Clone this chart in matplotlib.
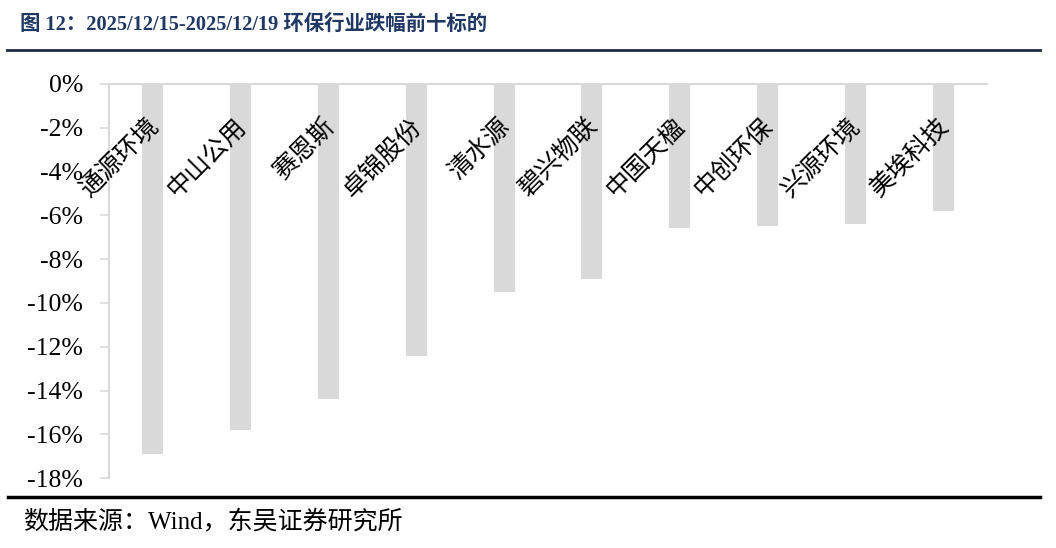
import matplotlib
matplotlib.use("Agg")
import matplotlib.pyplot as plt
from matplotlib.ticker import FuncFormatter

# data
names = ["通源环境", "中山公用", "赛恩斯", "卓锦股份", "清水源",
         "碧兴物联", "中国天楹", "中创环保", "兴源环境", "美埃科技"]
changes = [-16.9, -15.8, -14.4, -12.4, -9.5, -8.9, -6.6, -6.5, -6.4, -5.8]
yticks = list(range(0, -20, -2))

title = "图 12：2025/12/15-2025/12/19 环保行业跌幅前十标的"
source = "数据来源：Wind，东吴证券研究所"

serif_cjk = ["Liberation Serif", "Noto Sans CJK SC"]
plt.rcParams["font.family"] = serif_cjk

fig = plt.figure(figsize=(10.56, 5.48), dpi=100)
ax = fig.add_axes([0.1032, 0.1272, 0.8315, 0.7201])

x = range(len(names))
ax.bar(x, changes, width=0.24, color="#D9D9D9", zorder=2)

ax.set_xlim(-0.5, len(names) - 0.5)
ax.set_ylim(-18, 0)
ax.set_yticks(yticks)
ax.yaxis.set_major_formatter(FuncFormatter(lambda v, p: f"{v:.0f}%"))
ax.tick_params(axis="y", length=6.5, width=1.2, color="#D9D9D9",
               pad=12, labelsize=18.5)
ax.set_xticks([])

for s in ["right", "bottom"]:
    ax.spines[s].set_visible(False)
ax.spines["left"].set_color("#D9D9D9")
ax.spines["left"].set_linewidth(1.5)
ax.spines["top"].set_color("#D9D9D9")
ax.spines["top"].set_linewidth(1.5)

# rotated category labels near the zero line
for i, n in enumerate(names):
    ax.text(i + 0.02, -1.76, n, rotation=45, rotation_mode="anchor",
            ha="right", va="center", fontsize=18, fontweight="light",
            family=["Noto Sans CJK SC", "DejaVu Sans"], zorder=3)

# title, rules and source
fig.text(0.019, 0.954, title, fontsize=14.7, fontweight="bold",
         color="#1F3864", ha="left", va="center")
fig.add_artist(plt.Line2D([0.007, 0.985], [0.909, 0.909],
                          color="#1F2A44", lw=2, transform=fig.transFigure))
fig.add_artist(plt.Line2D([0.008, 0.985], [0.093, 0.093],
                          color="black", lw=2.5, transform=fig.transFigure))
fig.text(0.022, 0.048, source, fontsize=18, fontweight="light",
         ha="left", va="center")

fig.savefig("out.png", dpi=100)
